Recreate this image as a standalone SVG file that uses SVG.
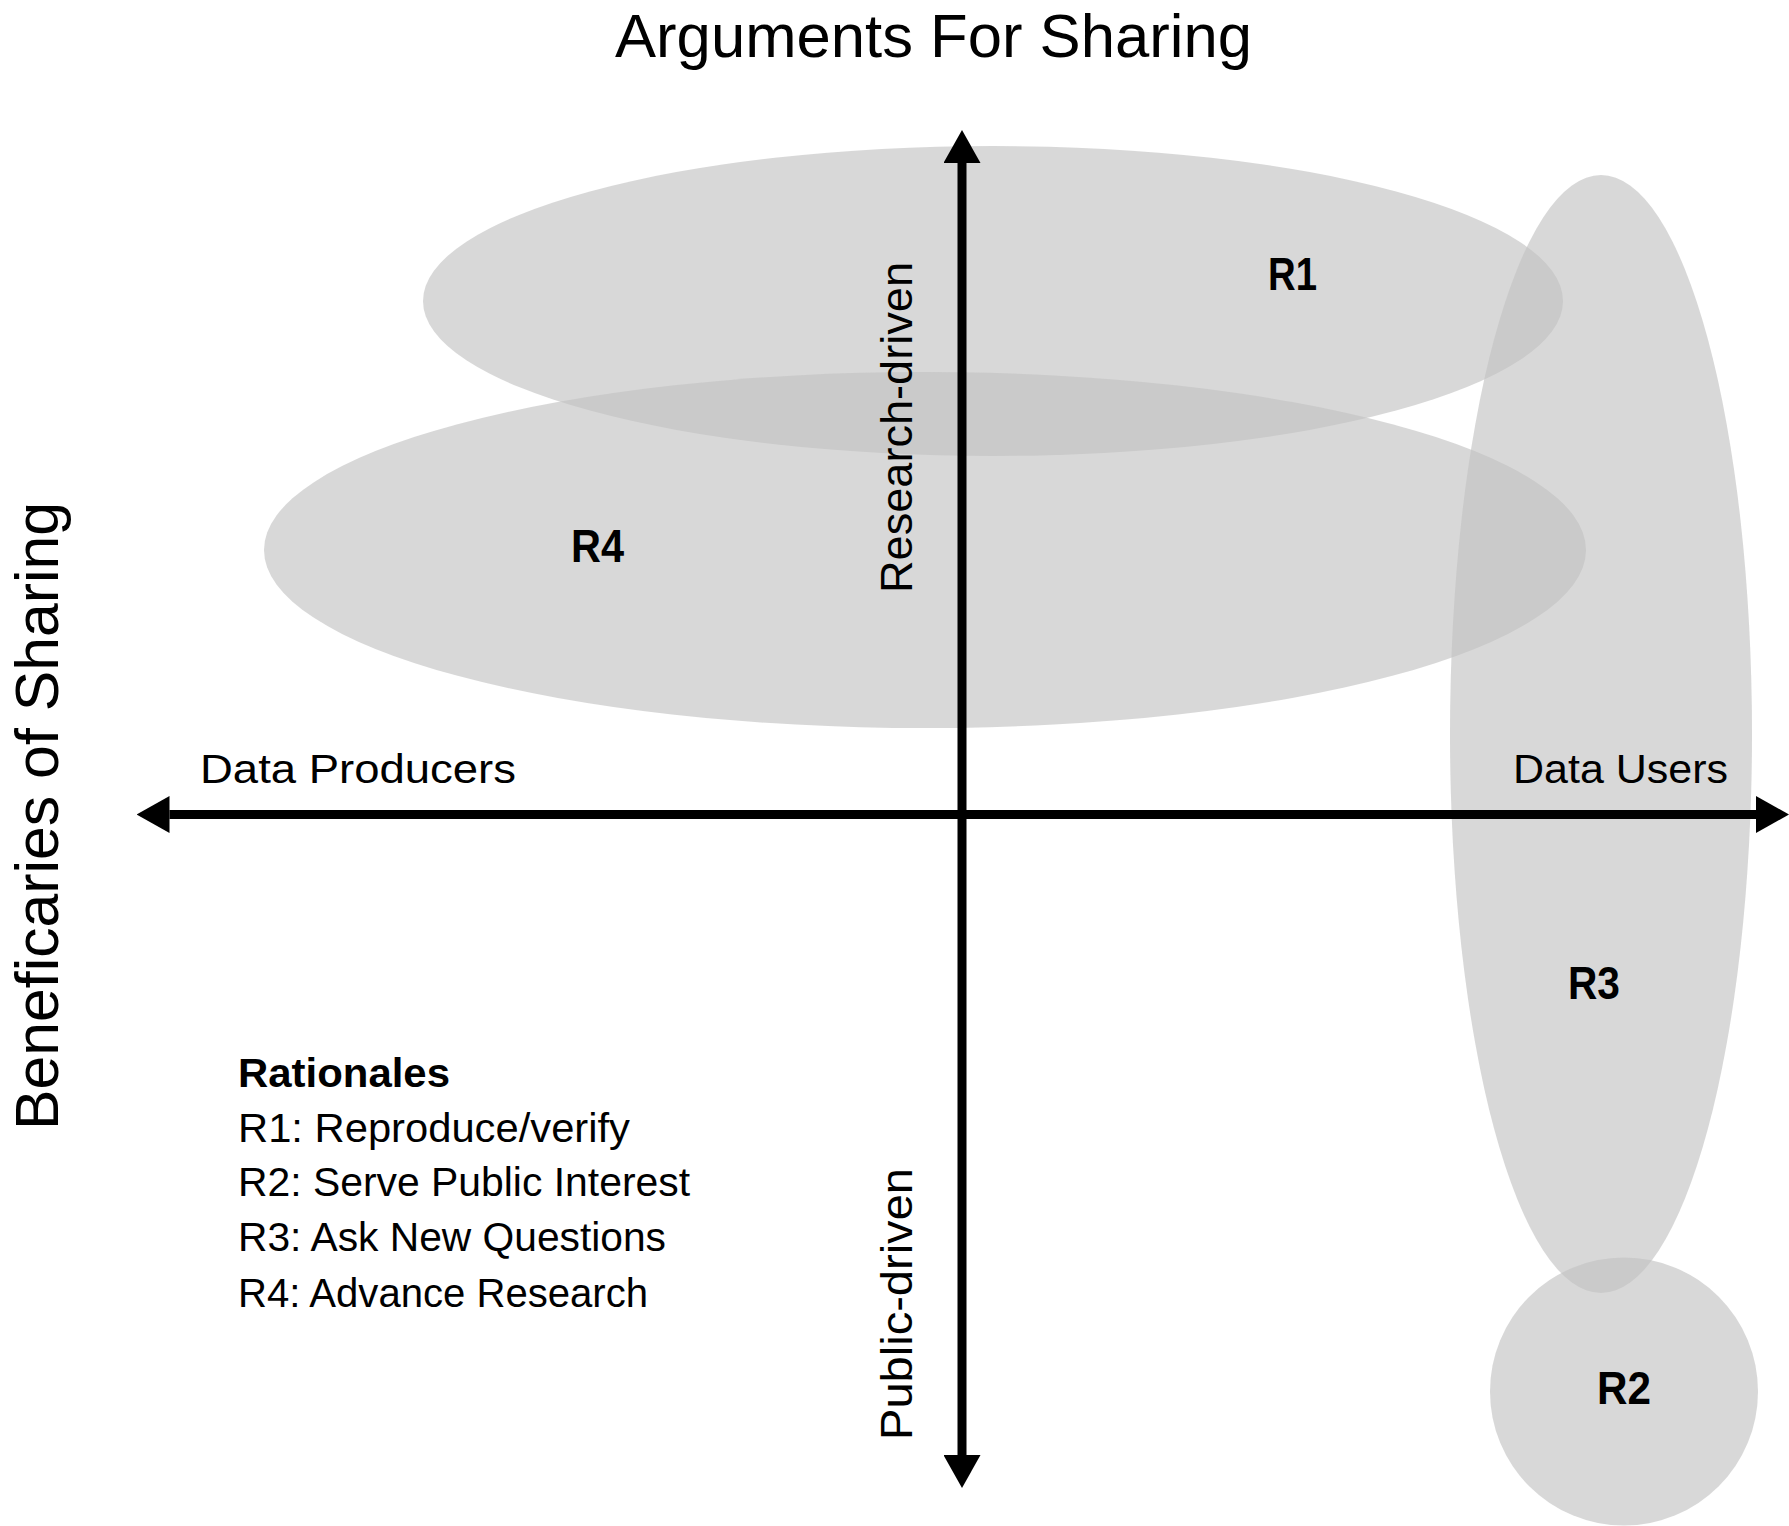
<svg xmlns="http://www.w3.org/2000/svg" width="1789" height="1526" viewBox="0 0 1789 1526">
  <defs>
    <style>
      .region { fill: #c2c2c2; fill-opacity: 0.64; stroke: none; }
      .axis { stroke: #000; stroke-width: 9; fill: none; }
      .t { font-family: "Liberation Sans", Arial, sans-serif; fill: #000; }
      .big { font-size: 61px; }
      .mid { font-size: 45px; }
      .lab { font-size: 41px; }
      .leg { font-size: 40px; }
      .b { font-weight: bold; }
      .rl { font-size: 46px; font-weight: bold; }
    </style>
    <marker id="head" markerUnits="userSpaceOnUse" markerWidth="33" markerHeight="37" viewBox="0 0 33 37" refX="0" refY="18.5" orient="auto-start-reverse">
      <path d="M0,0 L33,18.5 L0,37 Z" fill="#000"/>
    </marker>
  </defs>

  <rect x="0" y="0" width="1789" height="1526" fill="#fff"/>

  <g id="R1">
    <ellipse class="region" cx="993" cy="301" rx="570" ry="155"/>
  </g>
  <g id="R4">
    <ellipse class="region" cx="925" cy="550" rx="661" ry="178"/>
  </g>
  <g id="R3">
    <ellipse class="region" cx="1601" cy="734" rx="151" ry="559"/>
  </g>
  <g id="R2">
    <circle class="region" cx="1624" cy="1391.5" r="134"/>
  </g>

  <g id="connectors">
    <line class="axis" x1="169.5" y1="814.5" x2="1756" y2="814.5" marker-start="url(#head)" marker-end="url(#head)"/>
    <line class="axis" x1="962" y1="163" x2="962" y2="1455" marker-start="url(#head)" marker-end="url(#head)"/>
  </g>

  <g id="labels">
    <text class="t big" x="615" y="57" textLength="637" lengthAdjust="spacingAndGlyphs">Arguments For Sharing</text>
    <text class="t big" transform="translate(58,1130) rotate(-90)" x="0" y="0" textLength="628" lengthAdjust="spacingAndGlyphs">Beneficaries of Sharing</text>
    <text class="t lab" x="200" y="783" textLength="316" lengthAdjust="spacingAndGlyphs">Data Producers</text>
    <text class="t lab" x="1513" y="783" textLength="215" lengthAdjust="spacingAndGlyphs">Data Users</text>
    <text class="t mid" transform="translate(912,593) rotate(-90)" x="0" y="0" textLength="331" lengthAdjust="spacingAndGlyphs">Research-driven</text>
    <text class="t mid" transform="translate(912,1440) rotate(-90)" x="0" y="0" textLength="272" lengthAdjust="spacingAndGlyphs">Public-driven</text>
  </g>

  <g id="region-labels">
    <text class="t rl" x="1268" y="290" textLength="49" lengthAdjust="spacingAndGlyphs">R1</text>
    <text class="t rl" x="571" y="562" textLength="53" lengthAdjust="spacingAndGlyphs">R4</text>
    <text class="t rl" x="1568" y="999" textLength="52" lengthAdjust="spacingAndGlyphs">R3</text>
    <text class="t rl" x="1597" y="1404" textLength="54" lengthAdjust="spacingAndGlyphs">R2</text>
  </g>

  <g id="legend">
    <text class="t leg b" x="238" y="1087" textLength="212" lengthAdjust="spacingAndGlyphs">Rationales</text>
    <text class="t leg" x="238" y="1142" textLength="392" lengthAdjust="spacingAndGlyphs">R1: Reproduce/verify</text>
    <text class="t leg" x="238" y="1196" textLength="452" lengthAdjust="spacingAndGlyphs">R2: Serve Public Interest</text>
    <text class="t leg" x="238" y="1251" textLength="428" lengthAdjust="spacingAndGlyphs">R3: Ask New Questions</text>
    <text class="t leg" x="238" y="1307" textLength="410" lengthAdjust="spacingAndGlyphs">R4: Advance Research</text>
  </g>
</svg>
